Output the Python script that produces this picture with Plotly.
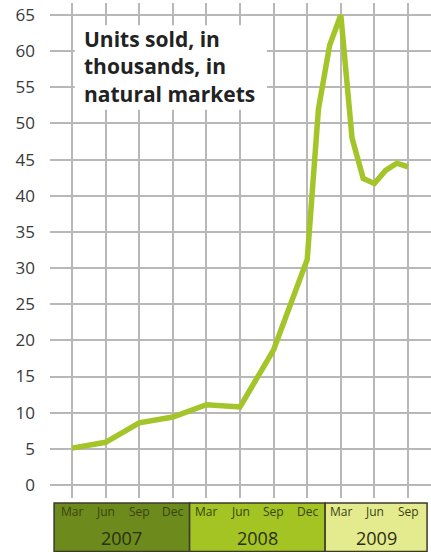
import plotly.graph_objects as go

# ---- data ----
months = [0, 3, 6, 9, 12, 15, 18, 21, 22, 23, 24, 25, 26, 27, 28, 29, 30]  # months since Mar 2007
units = [5.1, 5.9, 8.6, 9.4, 11.1, 10.8, 18.7, 31.2, 52.0, 60.8, 65.0, 48.0, 42.4, 41.7, 43.5, 44.5, 44.0]

tick_months = [0, 3, 6, 9, 12, 15, 18, 21, 24, 27, 30]
tick_labels = ["Mar", "Jun", "Sep", "Dec", "Mar", "Jun", "Sep", "Dec", "Mar", "Jun", "Sep"]
years = ["2007", "2008", "2009"]
year_edges = [-1.6, 10.5, 22.6, 31.7]
year_colors = ["#6d8a1d", "#a4c424", "#e3eb8e"]

title_text = "Units sold, in<br>thousands, in<br>natural markets"

# ---- layout constants ----
W, H = 431, 552
ML, MR, MT, MB = 50, 0, 3, 54
XMIN, XMAX = -1.964, 32.05
YMIN, YMAX = -1.80, 66.66
plot_h = H - MT - MB


def xp(m):
    return (m - XMIN) / (XMAX - XMIN)


def yp_px(px):
    return (H - MB - px) / plot_h


fig = go.Figure()
fig.add_trace(go.Scatter(
    x=months, y=units, mode="lines",
    line=dict(color="#a3c52a", width=5.5, shape="linear"),
    hoverinfo="skip", showlegend=False,
))

shapes = []
# white box behind the title (covers gridlines)
shapes.append(dict(type="rect", xref="x", yref="y", x0=0.25, x1=17.4, y0=51.9, y1=63.6,
                   fillcolor="white", line=dict(width=0), layer="between"))
# year bands
for i, y in enumerate(years):
    shapes.append(dict(type="rect", xref="paper", yref="paper",
                       x0=xp(year_edges[i]), x1=xp(year_edges[i + 1]),
                       y0=yp_px(551.5), y1=yp_px(503),
                       fillcolor=year_colors[i], line=dict(color="#3b3b2a", width=1.5),
                       layer="above"))

annotations = []
annotations.append(dict(text=title_text, xref="x", yref="y", x=0.85, y=63.9,
                        xanchor="left", yanchor="top", align="left", showarrow=False,
                        font=dict(family="Open Sans", size=21, color="#222222", weight="bold")))
for m, t in zip(tick_months, tick_labels):
    annotations.append(dict(text=t, xref="x", yref="paper", x=m, y=yp_px(511),
                            xanchor="center", yanchor="middle", showarrow=False,
                            font=dict(family="Open Sans", size=12, color="#3a4212")))
for i, y in enumerate(years):
    annotations.append(dict(text=y, xref="x", yref="paper",
                            x=(year_edges[i] + year_edges[i + 1]) / 2, y=yp_px(538),
                            xanchor="center", yanchor="middle", showarrow=False,
                            font=dict(family="Open Sans", size=18, color="#2b2e12")))

fig.update_layout(
    width=W, height=H,
    margin=dict(l=ML, r=MR, t=MT, b=MB, pad=0),
    paper_bgcolor="white", plot_bgcolor="white",
    shapes=shapes, annotations=annotations,
    xaxis=dict(range=[XMIN, XMAX], tickvals=tick_months, showticklabels=False,
               showgrid=True, gridcolor="#b8b8b8", gridwidth=2, zeroline=False,
               showline=False, ticks="", fixedrange=True),
    yaxis=dict(range=[YMIN, YMAX], tickvals=list(range(0, 70, 5)),
               showgrid=True, gridcolor="#b8b8b8", gridwidth=2, zeroline=False,
               showline=False, ticks="", ticklabelstandoff=14,
               tickfont=dict(family="Open Sans", size=17, color="#3a3a3a"), fixedrange=True),
    showlegend=False,
)

fig.write_html("out.html", config={"displayModeBar": False})
